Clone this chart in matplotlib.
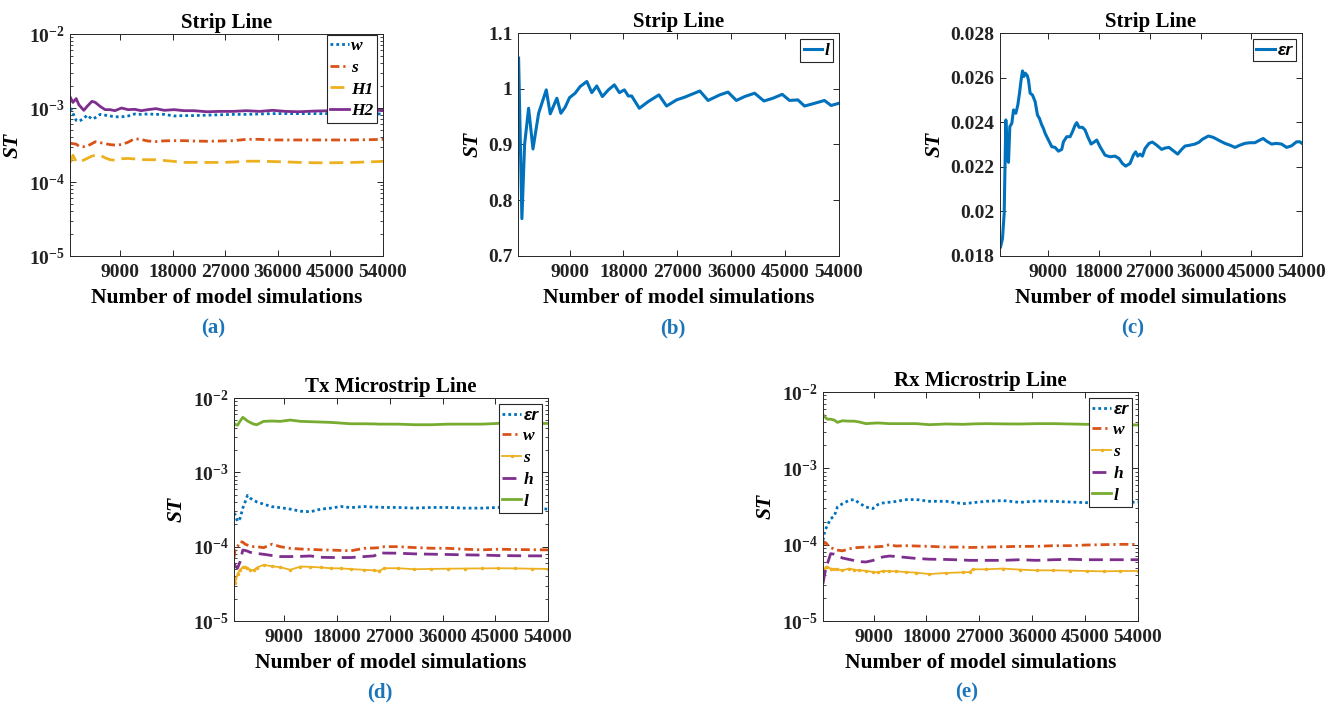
import matplotlib
matplotlib.use('Agg')
import matplotlib.pyplot as plt
from matplotlib.ticker import LogLocator, NullFormatter

plt.rcParams['font.family'] = ['Liberation Serif', 'DejaVu Serif']
plt.rcParams['font.weight'] = 'bold'
plt.rcParams['axes.labelweight'] = 'bold'
plt.rcParams['axes.titleweight'] = 'bold'
plt.rcParams['mathtext.fontset'] = 'custom'
plt.rcParams['mathtext.rm'] = 'Liberation Serif:bold'
plt.rcParams['mathtext.bf'] = 'Liberation Serif:bold'
plt.rcParams['mathtext.it'] = 'Liberation Serif:bold:italic'
plt.rcParams['axes.linewidth'] = 0.7

# ---------------- data ----------------
XTICKS = [9000, 18000, 27000, 36000, 45000, 54000]
XTICK_LABELS = ['9000', '18000', '27000', '36000', '45000', '54000']
LOG_TICKS = [1e-5, 1e-4, 1e-3, 1e-2]
LOG_LABELS = [r'$\mathbf{10^{-5}}$', r'$\mathbf{10^{-4}}$', r'$\mathbf{10^{-3}}$', r'$\mathbf{10^{-2}}$']

# (a) Strip Line
a_x = [500, 900, 1460, 1910, 2760, 3320, 4160, 4730, 5570, 6410, 7260, 8100, 9230,
       10350, 11480, 12600, 13730, 15130, 16540, 18230, 19910, 21600, 23850, 26100,
       28350, 30600, 32850, 35100, 37350, 39600, 42410, 45230, 48040, 50850, 54000]
a_w = [1.0e-3, 8.5e-4, 6.8e-4, 6.6e-4, 7.2e-4, 8.0e-4, 7.1e-4, 7.4e-4, 8.2e-4, 8.0e-4,
       7.8e-4, 7.6e-4, 7.6e-4, 7.8e-4, 8.3e-4, 8.2e-4, 8.3e-4, 8.2e-4, 8.2e-4, 7.8e-4,
       7.9e-4, 7.9e-4, 8.0e-4, 8.1e-4, 8.2e-4, 8.2e-4, 8.3e-4, 8.4e-4, 8.4e-4, 8.4e-4,
       8.4e-4, 8.4e-4, 8.4e-4, 8.4e-4, 8.3e-4]
a_s = [3.33e-4, 3.3e-4, 3.25e-4, 3.05e-4, 3.0e-4, 3.05e-4, 3.3e-4, 3.5e-4, 3.4e-4, 3.3e-4,
       3.2e-4, 3.16e-4, 3.2e-4, 3.45e-4, 3.85e-4, 3.75e-4, 3.58e-4, 3.52e-4, 3.6e-4, 3.62e-4,
       3.62e-4, 3.58e-4, 3.55e-4, 3.58e-4, 3.62e-4, 3.77e-4, 3.77e-4, 3.7e-4, 3.7e-4, 3.7e-4,
       3.7e-4, 3.7e-4, 3.7e-4, 3.72e-4, 3.77e-4]
a_H1 = [1.85e-4, 2.3e-4, 1.88e-4, 1.85e-4, 1.98e-4, 2.08e-4, 2.24e-4, 2.3e-4, 2.3e-4, 2.12e-4,
        2.0e-4, 1.97e-4, 2.06e-4, 2.08e-4, 2.05e-4, 2.01e-4, 2.0e-4, 2.0e-4, 1.95e-4, 1.9e-4,
        1.84e-4, 1.84e-4, 1.84e-4, 1.84e-4, 1.86e-4, 1.91e-4, 1.91e-4, 1.89e-4, 1.87e-4, 1.84e-4,
        1.82e-4, 1.82e-4, 1.83e-4, 1.86e-4, 1.9e-4]
a_H2 = [1.37e-3, 1.19e-3, 1.34e-3, 1.11e-3, 9.3e-4, 1.05e-3, 1.23e-3, 1.19e-3, 1.05e-3, 9.5e-4,
        9.5e-4, 9.2e-4, 1.0e-3, 9.5e-4, 9.6e-4, 9.2e-4, 9.5e-4, 9.8e-4, 9.3e-4, 9.5e-4,
        9.2e-4, 9.2e-4, 8.9e-4, 9.0e-4, 9.0e-4, 9.2e-4, 9.0e-4, 9.3e-4, 9.0e-4, 8.9e-4,
        9.1e-4, 9.2e-4, 9.3e-4, 9.3e-4, 9.3e-4]

# (b) Strip Line, l
b_x = [500, 1050, 1500, 2170, 2900, 3840, 5120, 5780, 6890, 7560, 8280, 9000, 9940,
       10780, 11890, 12720, 13550, 14490, 15490, 16490, 17330, 18160, 18820, 19380,
       20660, 22150, 23930, 25210, 26870, 28260, 30760, 32140, 34090, 35470, 36860,
       38250, 39910, 41470, 42970, 44520, 45740, 47130, 48240, 49630, 51570, 52680, 54000]
b_l = [1.055, 0.767, 0.900, 0.965, 0.892, 0.956, 0.998, 0.955, 0.983, 0.956, 0.967, 0.984,
       0.992, 1.004, 1.013, 0.993, 1.005, 0.986, 0.998, 1.007, 0.993, 0.998, 0.987, 0.987,
       0.965, 0.977, 0.989, 0.969, 0.980, 0.985, 0.996, 0.979, 0.989, 0.994, 0.979,
       0.986, 0.992, 0.978, 0.983, 0.990, 0.979, 0.980, 0.969, 0.973, 0.979, 0.970, 0.974]

# (c) Strip Line, er
c_x = [500, 840, 1140, 1435, 1730, 1910, 2140, 2500, 2800, 3210, 3560, 3860, 4150, 4390,
       4630, 4860, 5220, 5450, 5750, 6160, 6640, 7050, 7400, 7820, 8110, 8410, 9000, 9590,
       10180, 10770, 11360, 11660, 12250, 12840, 13260, 13730, 14020, 14440, 15030, 15500,
       15970, 16570, 17160, 17570, 18160, 19050, 19930, 20820, 21530, 22120, 22710, 23480,
       24070, 24480, 24840, 25250, 25670, 26140, 26850, 27440, 28210, 29090, 29690, 30390,
       31160, 31930, 32640, 33230, 34120, 35000, 35710, 36300, 37370, 38260, 39140, 40320,
       41210, 42100, 42980, 43870, 44760, 45640, 46530, 47120, 47710, 48600, 49480, 50370,
       51260, 52140, 53030, 53620, 54000]
c_er = [0.01841, 0.01878, 0.0199, 0.0241, 0.0223, 0.0222, 0.0238, 0.02395, 0.02455, 0.0244,
        0.02477, 0.0253, 0.0259, 0.0263, 0.02605, 0.0262, 0.0261, 0.0259, 0.0253, 0.02522,
        0.02492, 0.02432, 0.02417, 0.02387, 0.02372, 0.0235, 0.0232, 0.0229, 0.02287, 0.0227,
        0.02278, 0.02312, 0.02335, 0.02335, 0.02357, 0.02387, 0.02398, 0.02377, 0.02377,
        0.02365, 0.02335, 0.02302, 0.02312, 0.0232, 0.0229, 0.02252, 0.02245, 0.02248,
        0.02237, 0.02215, 0.02203, 0.02215, 0.02252, 0.02267, 0.02248, 0.02257, 0.02248,
        0.02282, 0.02305, 0.02311, 0.02297, 0.02278, 0.02284, 0.02287, 0.02272, 0.02257,
        0.02278, 0.02293, 0.02297, 0.02302, 0.0231, 0.02323, 0.02338, 0.02332, 0.0232,
        0.02305, 0.02297, 0.02287, 0.02297, 0.02305, 0.02308, 0.02308, 0.0232, 0.02327,
        0.02315, 0.02302, 0.02305, 0.02302, 0.02287, 0.02294, 0.02312, 0.02312, 0.02305]

# (d) Tx Microstrip Line
d_x = [400, 600, 1000, 1450, 1900, 2300, 2700, 3150, 3750, 4300, 5450, 6900, 8300, 10000,
       11750, 13450, 15200, 16900, 18600, 20350, 22600, 24350, 25200, 26050, 28350, 31200,
       34100, 36950, 39800, 42650, 45500, 48400, 51250, 54000]
d_er = [2.83e-4, 2.68e-4, 2.18e-4, 2.42e-4, 3.3e-4, 4.0e-4, 4.89e-4, 4.5e-4, 4.2e-4, 4.0e-4,
        3.73e-4, 3.45e-4, 3.35e-4, 3.2e-4, 3.0e-4, 2.95e-4, 3.2e-4, 3.3e-4, 3.47e-4, 3.35e-4,
        3.47e-4, 3.4e-4, 3.4e-4, 3.37e-4, 3.37e-4, 3.3e-4, 3.37e-4, 3.37e-4, 3.3e-4, 3.3e-4,
        3.37e-4, 3.37e-4, 3.3e-4, 3.2e-4]
d_w = [7.0e-5, 9.5e-5, 1.0e-4, 1.17e-4, 1.15e-4, 1.08e-4, 1.05e-4, 1.02e-4, 1.0e-4, 1.0e-4,
       9.7e-5, 1.08e-4, 1.0e-4, 9.5e-5, 9.3e-5, 9.2e-5, 9.06e-5, 9.0e-5, 8.9e-5, 8.8e-5,
       9.5e-5, 9.6e-5, 9.7e-5, 1.0e-4, 1.0e-4, 9.73e-5, 9.53e-5, 9.5e-5, 9.24e-5, 9.06e-5,
       9.24e-5, 9.15e-5, 9.1e-5, 9.06e-5]
d_s = [3.84e-5, 3.22e-5, 4.3e-5, 4.88e-5, 5.3e-5, 5.3e-5, 5.13e-5, 4.9e-5, 4.8e-5, 5.23e-5,
       5.69e-5, 5.45e-5, 5.3e-5, 4.88e-5, 5.4e-5, 5.35e-5, 5.25e-5, 5.13e-5, 5.1e-5, 5.0e-5,
       4.88e-5, 4.8e-5, 4.72e-5, 5.13e-5, 5.13e-5, 4.97e-5, 5.02e-5, 5.05e-5, 5.08e-5, 5.1e-5,
       5.13e-5, 5.1e-5, 5.05e-5, 5.02e-5]
d_h = [6.0e-5, 5.5e-5, 5.13e-5, 6.3e-5, 9.0e-5, 8.9e-5, 8.7e-5, 8.4e-5, 8.17e-5, 8.1e-5,
       7.9e-5, 7.6e-5, 7.36e-5, 7.36e-5, 7.4e-5, 7.5e-5, 7.2e-5, 7.15e-5, 7.14e-5, 7.14e-5,
       7.36e-5, 7.52e-5, 8.34e-5, 8.2e-5, 8.17e-5, 8.0e-5, 7.92e-5, 7.85e-5, 7.76e-5, 7.7e-5,
       7.6e-5, 7.55e-5, 7.52e-5, 7.52e-5]
d_l = [4.6e-3, 4.4e-3, 4.3e-3, 4.9e-3, 5.5e-3, 5.2e-3, 4.9e-3, 4.7e-3, 4.45e-3, 4.37e-3,
       4.85e-3, 4.9e-3, 4.85e-3, 5.05e-3, 4.85e-3, 4.8e-3, 4.75e-3, 4.7e-3, 4.6e-3, 4.5e-3,
       4.5e-3, 4.48e-3, 4.45e-3, 4.45e-3, 4.45e-3, 4.37e-3, 4.37e-3, 4.45e-3, 4.45e-3, 4.45e-3,
       4.55e-3, 4.55e-3, 4.55e-3, 4.55e-3]

# (e) Rx Microstrip Line
e_x = [400, 600, 850, 1150, 1700, 2300, 2850, 3700, 4850, 5700, 6550, 7700, 8850, 9700,
       10550, 11700, 12800, 14550, 16250, 18500, 21350, 24200, 25350, 25900, 28200, 31050,
       33900, 36750, 39600, 42450, 45300, 48150, 51000, 54000]
e_er = [1.14e-4, 1.39e-4, 1.6e-4, 1.79e-4, 2.19e-4, 2.35e-4, 3.11e-4, 3.44e-4, 3.81e-4, 3.9e-4,
        3.51e-4, 3.11e-4, 2.97e-4, 3.34e-4, 3.51e-4, 3.6e-4, 3.68e-4, 3.89e-4, 3.9e-4, 3.7e-4,
        3.7e-4, 3.44e-4, 3.51e-4, 3.55e-4, 3.7e-4, 3.78e-4, 3.58e-4, 3.73e-4, 3.7e-4, 3.62e-4,
        3.55e-4, 3.44e-4, 3.55e-4, 3.62e-4]
e_w = [9.8e-5, 1.08e-4, 1.06e-4, 1.0e-4, 9.14e-5, 8.8e-5, 8.5e-5, 8.3e-5, 8.8e-5, 9.1e-5,
       9.2e-5, 9.3e-5, 9.3e-5, 9.4e-5, 9.5e-5, 1.0e-4, 9.6e-5, 9.7e-5, 9.6e-5, 9.5e-5,
       9.3e-5, 9.3e-5, 9.2e-5, 9.2e-5, 9.3e-5, 9.4e-5, 9.5e-5, 9.5e-5, 9.7e-5, 9.7e-5,
       9.9e-5, 1.0e-4, 1.01e-4, 1.01e-4]
e_s = [3.59e-5, 4.61e-5, 5.1e-5, 5.09e-5, 4.86e-5, 4.8e-5, 4.76e-5, 4.61e-5, 4.86e-5, 4.71e-5,
       4.61e-5, 4.55e-5, 4.4e-5, 4.35e-5, 4.52e-5, 4.5e-5, 4.47e-5, 4.38e-5, 4.3e-5, 4.12e-5,
       4.26e-5, 4.34e-5, 4.38e-5, 4.76e-5, 4.76e-5, 4.86e-5, 4.71e-5, 4.61e-5, 4.61e-5, 4.57e-5,
       4.52e-5, 4.47e-5, 4.52e-5, 4.52e-5]
e_h = [3.08e-5, 3.8e-5, 4.7e-5, 5.64e-5, 7.62e-5, 7.5e-5, 7.2e-5, 6.69e-5, 6.4e-5, 6.2e-5,
       6.0e-5, 5.93e-5, 6.2e-5, 6.5e-5, 6.9e-5, 7.1e-5, 7.0e-5, 6.8e-5, 6.6e-5, 6.45e-5,
       6.4e-5, 6.3e-5, 6.23e-5, 6.23e-5, 6.23e-5, 6.23e-5, 6.35e-5, 6.23e-5, 6.35e-5, 6.43e-5,
       6.35e-5, 6.35e-5, 6.35e-5, 6.35e-5]
e_l = [5.1e-3, 4.8e-3, 4.61e-3, 4.4e-3, 4.4e-3, 4.3e-3, 4.0e-3, 4.2e-3, 4.15e-3, 4.15e-3,
       4.05e-3, 3.85e-3, 3.9e-3, 3.93e-3, 3.9e-3, 3.85e-3, 3.85e-3, 3.85e-3, 3.85e-3, 3.73e-3,
       3.81e-3, 3.77e-3, 3.8e-3, 3.82e-3, 3.85e-3, 3.82e-3, 3.81e-3, 3.85e-3, 3.85e-3, 3.81e-3,
       3.77e-3, 3.73e-3, 3.72e-3, 3.7e-3]

# ---------------- style ----------------
BLUE, ORANGE, YELLOW, PURPLE, GREEN = '#0072BD', '#D95319', '#EDB120', '#7E2F8E', '#77AC30'
DOT = (0, (1, 1.1))
DASHDOT = (0, (3.2, 1.4, 0.8, 1.4))
DASH = (0, (5, 2.5))
CAPTION = '#1B75BB'
W, H = 1341, 706

fig = plt.figure(figsize=(W / 100, H / 100), dpi=100)


def make_axes(l, t, r, b):
    return fig.add_axes([l / W, 1 - b / H, (r - l) / W, (b - t) / H])


def style(ax, title, log=True):
    ax.set_xlim(400, 54000)
    ax.set_xticks(XTICKS, labels=XTICK_LABELS)
    if log:
        ax.set_yscale('log')
        ax.set_ylim(1e-5, 1e-2)
        ax.set_yticks(LOG_TICKS, labels=LOG_LABELS)
        ax.yaxis.set_minor_locator(LogLocator(base=10, subs=range(2, 10)))
        ax.yaxis.set_minor_formatter(NullFormatter())
    ax.tick_params(which='both', direction='in', top=True, right=True,
                   color='#262626', labelcolor='#222222', labelsize=14)
    ax.tick_params(axis='x', pad=6)
    ax.tick_params(axis='y', pad=4)
    ax.tick_params(which='major', length=4.5, width=0.7)
    ax.tick_params(which='minor', length=2.5, width=0.6)
    for sp in ax.spines.values():
        sp.set_color('#262626')
    ax.set_title(title, fontsize=15, fontweight='bold', pad=4)
    ax.set_xlabel('Number of model simulations', fontsize=15.5, fontweight='bold', labelpad=5)
    ax.set_ylabel('ST', fontsize=15.5, fontweight='bold', fontstyle='italic', labelpad=4)


def legend(ax, anchor=(1, 1), er_sans=False):
    leg = ax.legend(loc='upper right', bbox_to_anchor=anchor,
                    prop=dict(family='Liberation Serif', weight='bold', style='italic', size=12.5),
                    frameon=True, fancybox=False, framealpha=1, edgecolor='#262626',
                    borderaxespad=0.35, borderpad=0.2, handlelength=1.05,
                    handletextpad=0.15, labelspacing=0.32)
    leg.get_frame().set_linewidth(0.8)
    if er_sans:
        for t in leg.get_texts():
            if t.get_text() == 'εr':
                t.set_fontfamily('Liberation Sans')
    return leg


# (a)
ax = make_axes(70, 34, 383, 256)
ax.plot(a_x, a_w, color=BLUE, ls=DOT, lw=2, label='w')
ax.plot(a_x, a_s, color=ORANGE, ls=DASHDOT, lw=2, label='s')
ax.plot(a_x, a_H1, color=YELLOW, ls=DASH, lw=2, label='H1')
ax.plot(a_x, a_H2, color=PURPLE, ls='-', lw=2, label='H2')
style(ax, 'Strip Line')
legend(ax, anchor=(1.0, 1.025))

# (b)
ax = make_axes(518, 33, 839, 256)
ax.plot(b_x, b_l, color=BLUE, lw=2.2, label='l')
style(ax, 'Strip Line', log=False)
ax.set_ylim(0.7, 1.1)
ax.set_yticks([0.7, 0.8, 0.9, 1.0, 1.1], labels=['0.7', '0.8', '0.9', '1', '1.1'])
legend(ax)

# (c)
ax = make_axes(1000, 33, 1302, 256)
ax.plot(c_x, c_er, color=BLUE, lw=2.2, label='εr')
style(ax, 'Strip Line', log=False)
ax.set_ylim(0.018, 0.028)
ax.set_yticks([0.018, 0.020, 0.022, 0.024, 0.026, 0.028],
              labels=['0.018', '0.02', '0.022', '0.024', '0.026', '0.028'])
legend(ax, er_sans=True)

# (d)
ax = make_axes(234, 398, 548, 621)
ax.plot(d_x, d_er, color=BLUE, ls=DOT, lw=2, label='εr')
ax.plot(d_x, d_w, color=ORANGE, ls=DASHDOT, lw=2, label='w')
ax.plot(d_x, d_s, color=YELLOW, ls='-', lw=1.3, marker='.', ms=3, label='s')
ax.plot(d_x, d_h, color=PURPLE, ls=DASH, lw=2, label='h')
ax.plot(d_x, d_l, color=GREEN, ls='-', lw=2, label='l')
style(ax, 'Tx Microstrip Line')
legend(ax, er_sans=True)

# (e)
ax = make_axes(823, 392, 1138, 621)
ax.plot(e_x, e_er, color=BLUE, ls=DOT, lw=2, label='εr')
ax.plot(e_x, e_w, color=ORANGE, ls=DASHDOT, lw=2, label='w')
ax.plot(e_x, e_s, color=YELLOW, ls='-', lw=1.3, marker='.', ms=3, label='s')
ax.plot(e_x, e_h, color=PURPLE, ls=DASH, lw=2, label='h')
ax.plot(e_x, e_l, color=GREEN, ls='-', lw=2, label='l')
style(ax, 'Rx Microstrip Line')
legend(ax, er_sans=True)

# captions
for label, (cx, cy) in {'(a)': (213, 328), '(b)': (673, 328), '(c)': (1133, 328),
                        '(d)': (380, 692), '(e)': (967, 692)}.items():
    fig.text(cx / W, 1 - cy / H, label, color=CAPTION, fontsize=15, fontweight='bold',
             ha='center', va='center')

fig.savefig('out.png', dpi=100)
